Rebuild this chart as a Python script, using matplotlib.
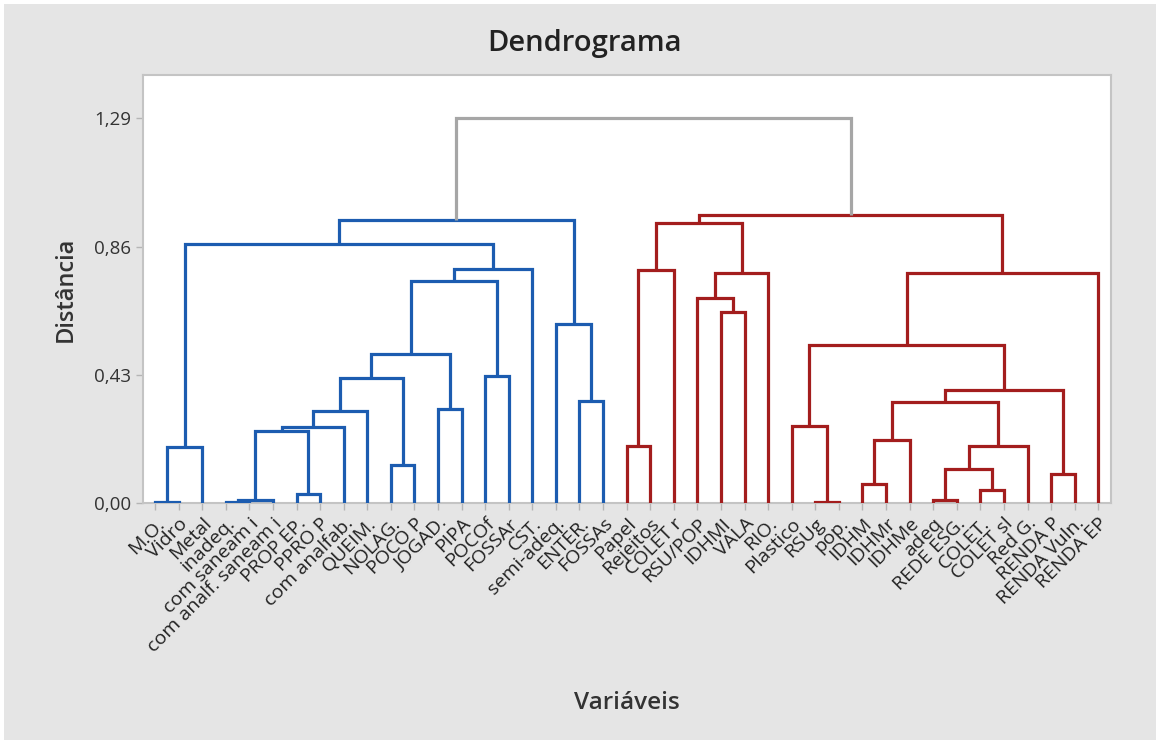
import numpy as np
import matplotlib
matplotlib.use("Agg")
import matplotlib.pyplot as plt
from matplotlib.patches import Rectangle

plt.rcParams['font.family'] = ['Open Sans', 'DejaVu Sans']

# leaf labels, in dendrogram order
labels = ["M.O.", "Vidro", "Metal", "inadeq.", "com saneam i", "com analf. saneam i",
          "PROP EP.", "PPRO P", "com analfab.", "QUEIM.", "NOLAG.", "POCO P", "JOGAD.",
          "PIPA", "POCOf", "FOSSAr", "CST.", "semi-adeq.", "ENTER.", "FOSSAs",
          "Papel", "Rejeitos", "COLET r", "RSU/POP", "IDHMI", "VALA", "RIO.",
          "Plastico", "RSUg", "pop.", "IDHM", "IDHMr", "IDHMe", "adeq", "REDE ESG.",
          "COLET.", "COLET sl", "Red G.", "RENDA P", "RENDA Vuln.", "RENDA EP"]
n = len(labels)

# merges: node ids < n are leaves, node n+k is the k-th merge
merge_left = [0, 41, 3, 43, 6, 44, 46, 47, 10, 48, 12, 50, 14, 52, 54, 42, 18, 17, 56,
              20, 60, 24, 23, 63, 61, 28, 27, 30, 68, 33, 35, 70, 72, 69, 38, 74, 67, 77, 65,
              59]
merge_right = [1, 2, 4, 5, 7, 45, 8, 9, 11, 49, 13, 51, 15, 53, 16, 55, 19, 57, 58,
               21, 22, 25, 62, 26, 64, 29, 66, 31, 32, 34, 36, 71, 37, 73, 39, 75, 76, 40, 78,
               79]
merge_height = [0.004, 0.19, 0.005, 0.012, 0.03, 0.242, 0.256, 0.309, 0.127, 0.421,
                0.317, 0.499, 0.427, 0.745, 0.784, 0.868, 0.343, 0.60, 0.951,
                0.192, 0.781, 0.641, 0.688, 0.772, 0.939, 0.004, 0.259, 0.064, 0.213,
                0.01, 0.044, 0.114, 0.191, 0.34, 0.099, 0.379, 0.53, 0.772, 0.965,
                1.29]
n_blue = 20  # first 20 leaves form the blue group

BLUE = '#1c5cb0'
RED = '#a31d1d'
GRAY = '#a6a6a6'

fig = plt.figure(figsize=(11.56, 7.4), dpi=100)
fig.patch.set_facecolor('white')
fig.patches.append(Rectangle((4 / 1156, 0), 1, 1 - 4 / 740, transform=fig.transFigure,
                             facecolor='#e5e5e5', edgecolor='none', zorder=-10))

ax = fig.add_axes([143 / 1156, 1 - 503.3 / 740, (1111 - 143) / 1156, (503.3 - 75) / 740])
ax.set_facecolor('white')

xpos = {i: float(i) for i in range(n)}
ypos = {i: 0.0 for i in range(n)}
members = {i: [i] for i in range(n)}

for k in range(len(merge_height)):
    a, b, h = merge_left[k], merge_right[k], merge_height[k]
    node = n + k
    members[node] = members[a] + members[b]
    if max(members[node]) < n_blue:
        c = BLUE
    elif min(members[node]) >= n_blue:
        c = RED
    else:
        c = GRAY
    ax.plot([xpos[a], xpos[a], xpos[b], xpos[b]], [ypos[a], h, h, ypos[b]],
            color=c, lw=2.3, solid_joinstyle='miter', solid_capstyle='butt', zorder=3)
    xpos[node] = (xpos[a] + xpos[b]) / 2
    ypos[node] = h

ax.set_xlim(-0.51, 40.54)
ax.set_ylim(0, (503.3 - 75) / 298.4)

ax.set_yticks([0, 0.43, 0.86, 1.29])
ax.set_yticklabels(["0,00", "0,43", "0,86", "1,29"], fontsize=13.5, color='#333333')
ax.set_xticks(range(n))
ax.set_xticklabels(labels, rotation=45, ha='right', rotation_mode='anchor',
                   fontsize=14, color='#222222')
ax.tick_params(axis='both', color='#b5b5b5', length=5, width=1)
ax.tick_params(axis='x', pad=3)

for s in ax.spines.values():
    s.set_color('#c4c4c4')
    s.set_linewidth(1.5)

ax.set_ylabel("Distância", fontsize=17, fontweight='semibold', color='#333333',
              labelpad=12)
fig.text(627 / 1156, 1 - 703 / 740, "Variáveis", ha='center', va='center',
         fontsize=17.5, fontweight='semibold', color='#333333')
fig.text(585 / 1156, 1 - 43 / 740, "Dendrograma", ha='center', va='center',
         fontsize=21, fontweight='semibold', color='#222222')

fig.savefig("out.png", dpi=100)
